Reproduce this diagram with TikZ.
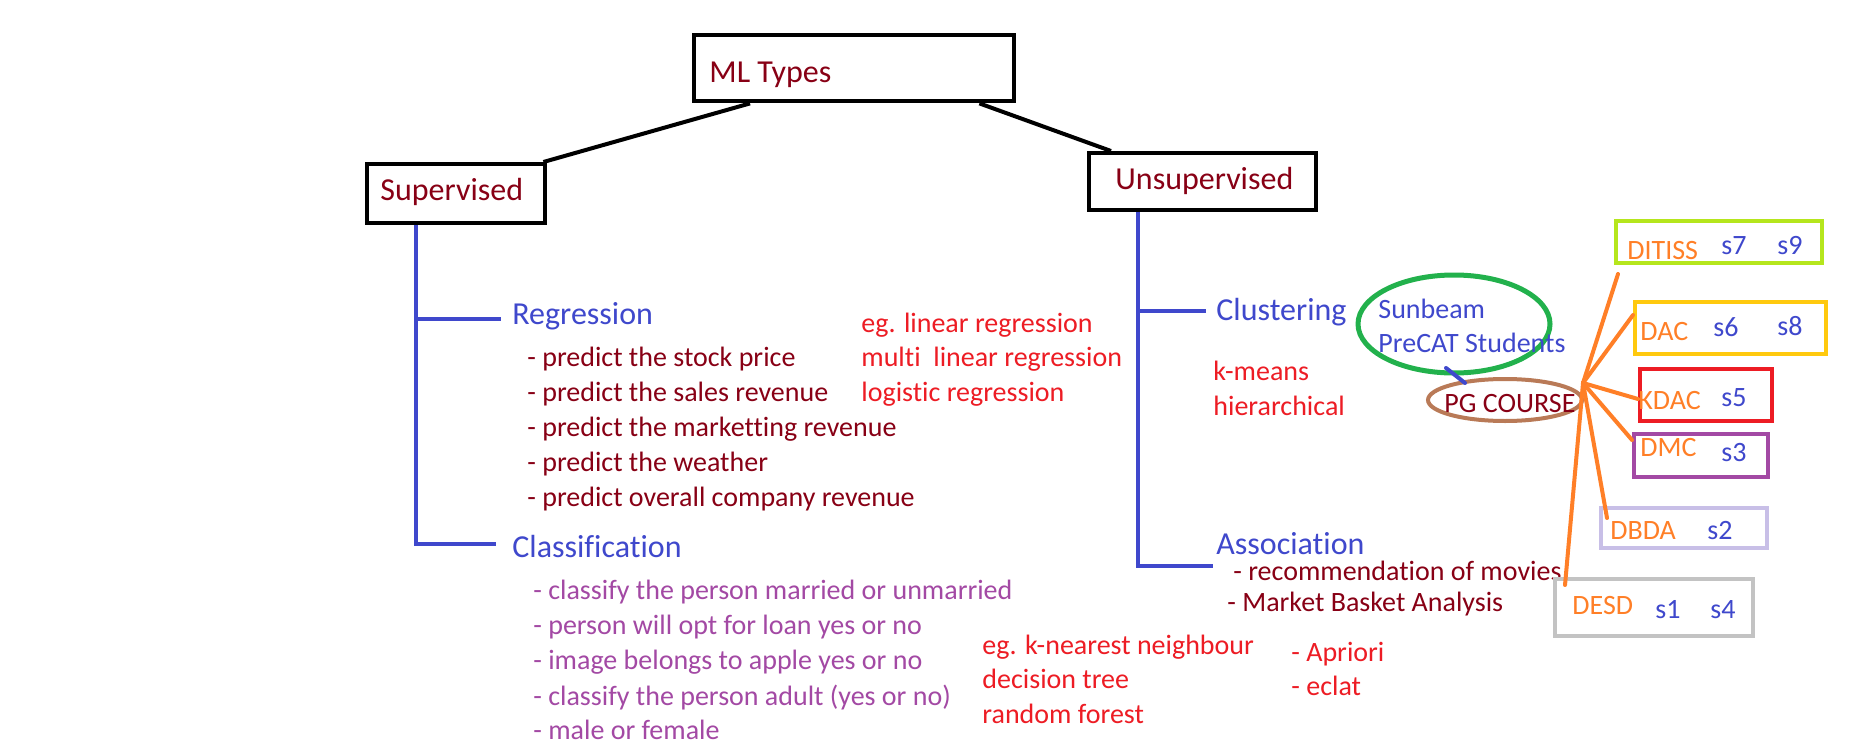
\documentclass[tikz,border=0pt]{standalone}
\usepackage{fontspec}
\setmainfont{Carlito}[Ligatures=NoCommon]
\usetikzlibrary{shapes.geometric,calc}
\definecolor{dred}{HTML}{880015}
\definecolor{pblue}{HTML}{3F48CC}
\definecolor{pred}{HTML}{ED1C24}
\definecolor{ppurple}{HTML}{A349A4}
\definecolor{porange}{HTML}{FF7F27}
\definecolor{pgreen}{HTML}{22B14C}
\definecolor{pbrown}{HTML}{B97A57}
\definecolor{plime}{HTML}{B5E61D}
\definecolor{pgold}{HTML}{FFC90E}
\definecolor{plav}{HTML}{C8BFE7}
\definecolor{pgray}{HTML}{C3C3C3}
\begin{document}
\begin{tikzpicture}[x=0.5pt,y=-0.5pt,
  txt/.style={inner sep=0pt,anchor=base west,yshift=-1.5pt,font=\fontsize{14}{16}\selectfont},
  hdr/.style={inner sep=0pt,anchor=base west,yshift=-1.5pt,font=\fontsize{16}{18}\selectfont},
  bbox/.style={draw=black,line width=2.2pt,anchor=north west,inner sep=0pt},
  cbox/.style={draw=#1,line width=2pt,anchor=north west,inner sep=0pt},
  blk/.style={draw=black,line width=2pt},
  tree/.style={draw=pblue,line width=2pt},
  oline/.style={draw=porange,line width=2pt,line cap=round}]
\useasboundingbox (0,0) rectangle (1850,743);
\fill[white] (0,0) rectangle (1850,743);

% main boxes
\node[bbox,minimum width=160pt,minimum height=33pt] (ml) at (692,33) {};
\node[bbox,minimum width=89pt,minimum height=29.5pt] (sup) at (365,162) {};
\node[bbox,minimum width=113.5pt,minimum height=28.5pt] (unsup) at (1087,151) {};
\node[hdr,text=dred] (mlt) at (709,80) {ML Types};
\node[hdr,text=dred] (supt) at (380,197) {Supervised};
\node[hdr,text=dred] (unsupt) at (1115,187) {Unsupervised};

\draw[blk] ($(ml.south west)+(58,0)$) -- ($(sup.north east)+(-4,0)$);
\draw[blk] ($(ml.south east)+(-37,0)$) -- ($(unsup.north west)+(24,0)$);

% supervised tree
\coordinate (s0) at ($(sup.south west)+(51,0)$);
\coordinate (regend) at (501,319);
\coordinate (clsend) at (496,544);
\draw[tree] (s0) -- (s0 |- clsend) -- (clsend);
\draw[tree] (s0 |- regend) -- (regend);

\node[hdr,text=pblue] (reg) at (512,321) {Regression};
\node[txt,text=dred] (r1) at (527,363) {- predict the stock price};
\node[txt,text=dred] (r2) at (527,398) {- predict the sales revenue};
\node[txt,text=dred] (r3) at (527,433) {- predict the marketting revenue};
\node[txt,text=dred] (r4) at (527,468) {- predict the weather};
\node[txt,text=dred] (r5) at (527,503) {- predict overall company revenue};
\node[txt,text=pred] (e1) at (861,329) {eg. linear regression};
\node[txt,text=pred] (e2) at (861,363) {multi\ \ linear regression};
\node[txt,text=pred] (e3) at (861,398) {logistic regression};

\node[hdr,text=pblue] (cls) at (512,554) {Classification};
\node[txt,text=ppurple] (c1) at (533,596) {- classify the person married or unmarried};
\node[txt,text=ppurple] (c2) at (533,631) {- person will opt for loan yes or no};
\node[txt,text=ppurple] (c3) at (533,666) {- image belongs to apple yes or no};
\node[txt,text=ppurple] (c4) at (533,702) {- classify the person adult (yes or no)};
\node[txt,text=ppurple] (c5) at (533,736) {- male or female};
\node[txt,text=pred] (k1) at (982,651) {eg. k-nearest neighbour};
\node[txt,text=pred] (k2) at (982,685) {decision tree};
\node[txt,text=pred] (k3) at (982,720) {random forest};

% unsupervised tree
\coordinate (u0) at ($(unsup.south west)+(51,0)$);
\coordinate (cluend) at (1206,311);
\coordinate (assend) at (1213,566);
\draw[tree] (u0) -- (u0 |- assend) -- (assend);
\draw[tree] (u0 |- cluend) -- (cluend);

\node[hdr,text=pblue] (clu) at (1216,317) {Clustering};
\node[txt,text=pred] (km) at (1213,377) {k-means};
\node[txt,text=pred] (hi) at (1213,412) {hierarchical};
\node[hdr,text=pblue] (ass) at (1216,551) {Association};
\node[txt,text=dred] (a1) at (1233,577) {- recommendation of movies};
\node[txt,text=dred] (a2) at (1227,608) {- Market Basket Analysis};
\node[txt,text=pred] (ap) at (1291,658) {- Apriori};
\node[txt,text=pred] (ec) at (1291,692) {- eclat};

% ellipses
\node[ellipse,draw=pgreen,line width=2.5pt,minimum width=96pt,minimum height=49pt,inner sep=0pt] (sun) at (1454,324) {};
\node[txt,text=pblue] (sun1) at (1378,315) {Sunbeam};
\node[txt,text=pblue] (sun2) at (1378,349) {PreCAT Students};
\node[ellipse,draw=pbrown,line width=2pt,minimum width=77pt,minimum height=21pt,inner sep=0pt] (pg) at (1505,400) {};
\node[txt,text=dred] (pgt) at (1444,409) {PG COURSE};
\draw[tree,line cap=round] ($(sun.center)+(-8,44)$) -- ($(pg.center)+(-40,-17)$);

% course boxes
\node[cbox=plime,minimum width=103pt,minimum height=21pt] (ditiss) at (1614,219) {};
\node[cbox=pgold,minimum width=95.5pt,minimum height=26pt] (dac) at (1633,300) {};
\node[cbox=pred,minimum width=66pt,minimum height=26pt] (kdac) at (1638,367) {};
\node[cbox=ppurple,minimum width=67pt,minimum height=21.5pt] (dmc) at (1632,432) {};
\node[cbox=plav,minimum width=83pt,minimum height=20pt] (dbda) at (1599,506) {};
\node[cbox=pgray,minimum width=99pt,minimum height=28.5pt] (desd) at (1553,577) {};

\node[txt,text=porange] (t1) at (1627,256) {DITISS};
\node[txt,text=pblue] at (1721,251) {s7};
\node[txt,text=pblue] at (1777,251) {s9};
\node[txt,text=porange] (t2) at (1640,337) {DAC};
\node[txt,text=pblue] at (1713,333) {s6};
\node[txt,text=pblue] at (1777,332) {s8};
\node[txt,text=porange] (t3) at (1638,406) {KDAC};
\node[txt,text=pblue] at (1721,403) {s5};
\node[txt,text=porange] (t4) at (1640,453) {DMC};
\node[txt,text=pblue] at (1721,458) {s3};
\node[txt,text=porange] (t5) at (1610,536) {DBDA};
\node[txt,text=pblue] at (1707,536) {s2};
\node[txt,text=porange] (t6) at (1572,611) {DESD};
\node[txt,text=pblue] at (1655,615) {s1};
\node[txt,text=pblue] at (1710,615) {s4};

% orange spokes
\coordinate (hub) at ($(pg.east)+(-1,-17)$);
\draw[oline] (hub) -- ($(ditiss.south west)+(4,9)$);
\draw[oline] (hub) -- ($(dac.west)+(0,-13)$);
\draw[oline] (hub) -- ($(kdac.west)+(0,4)$);
\draw[oline] (hub) -- ($(dmc.north west)+(0,8)$);
\draw[oline] (hub) -- ($(dbda.north west)+(8,12)$);
\draw[oline] (hub) -- ($(desd.north west)+(12,8)$);
\end{tikzpicture}
\end{document}
